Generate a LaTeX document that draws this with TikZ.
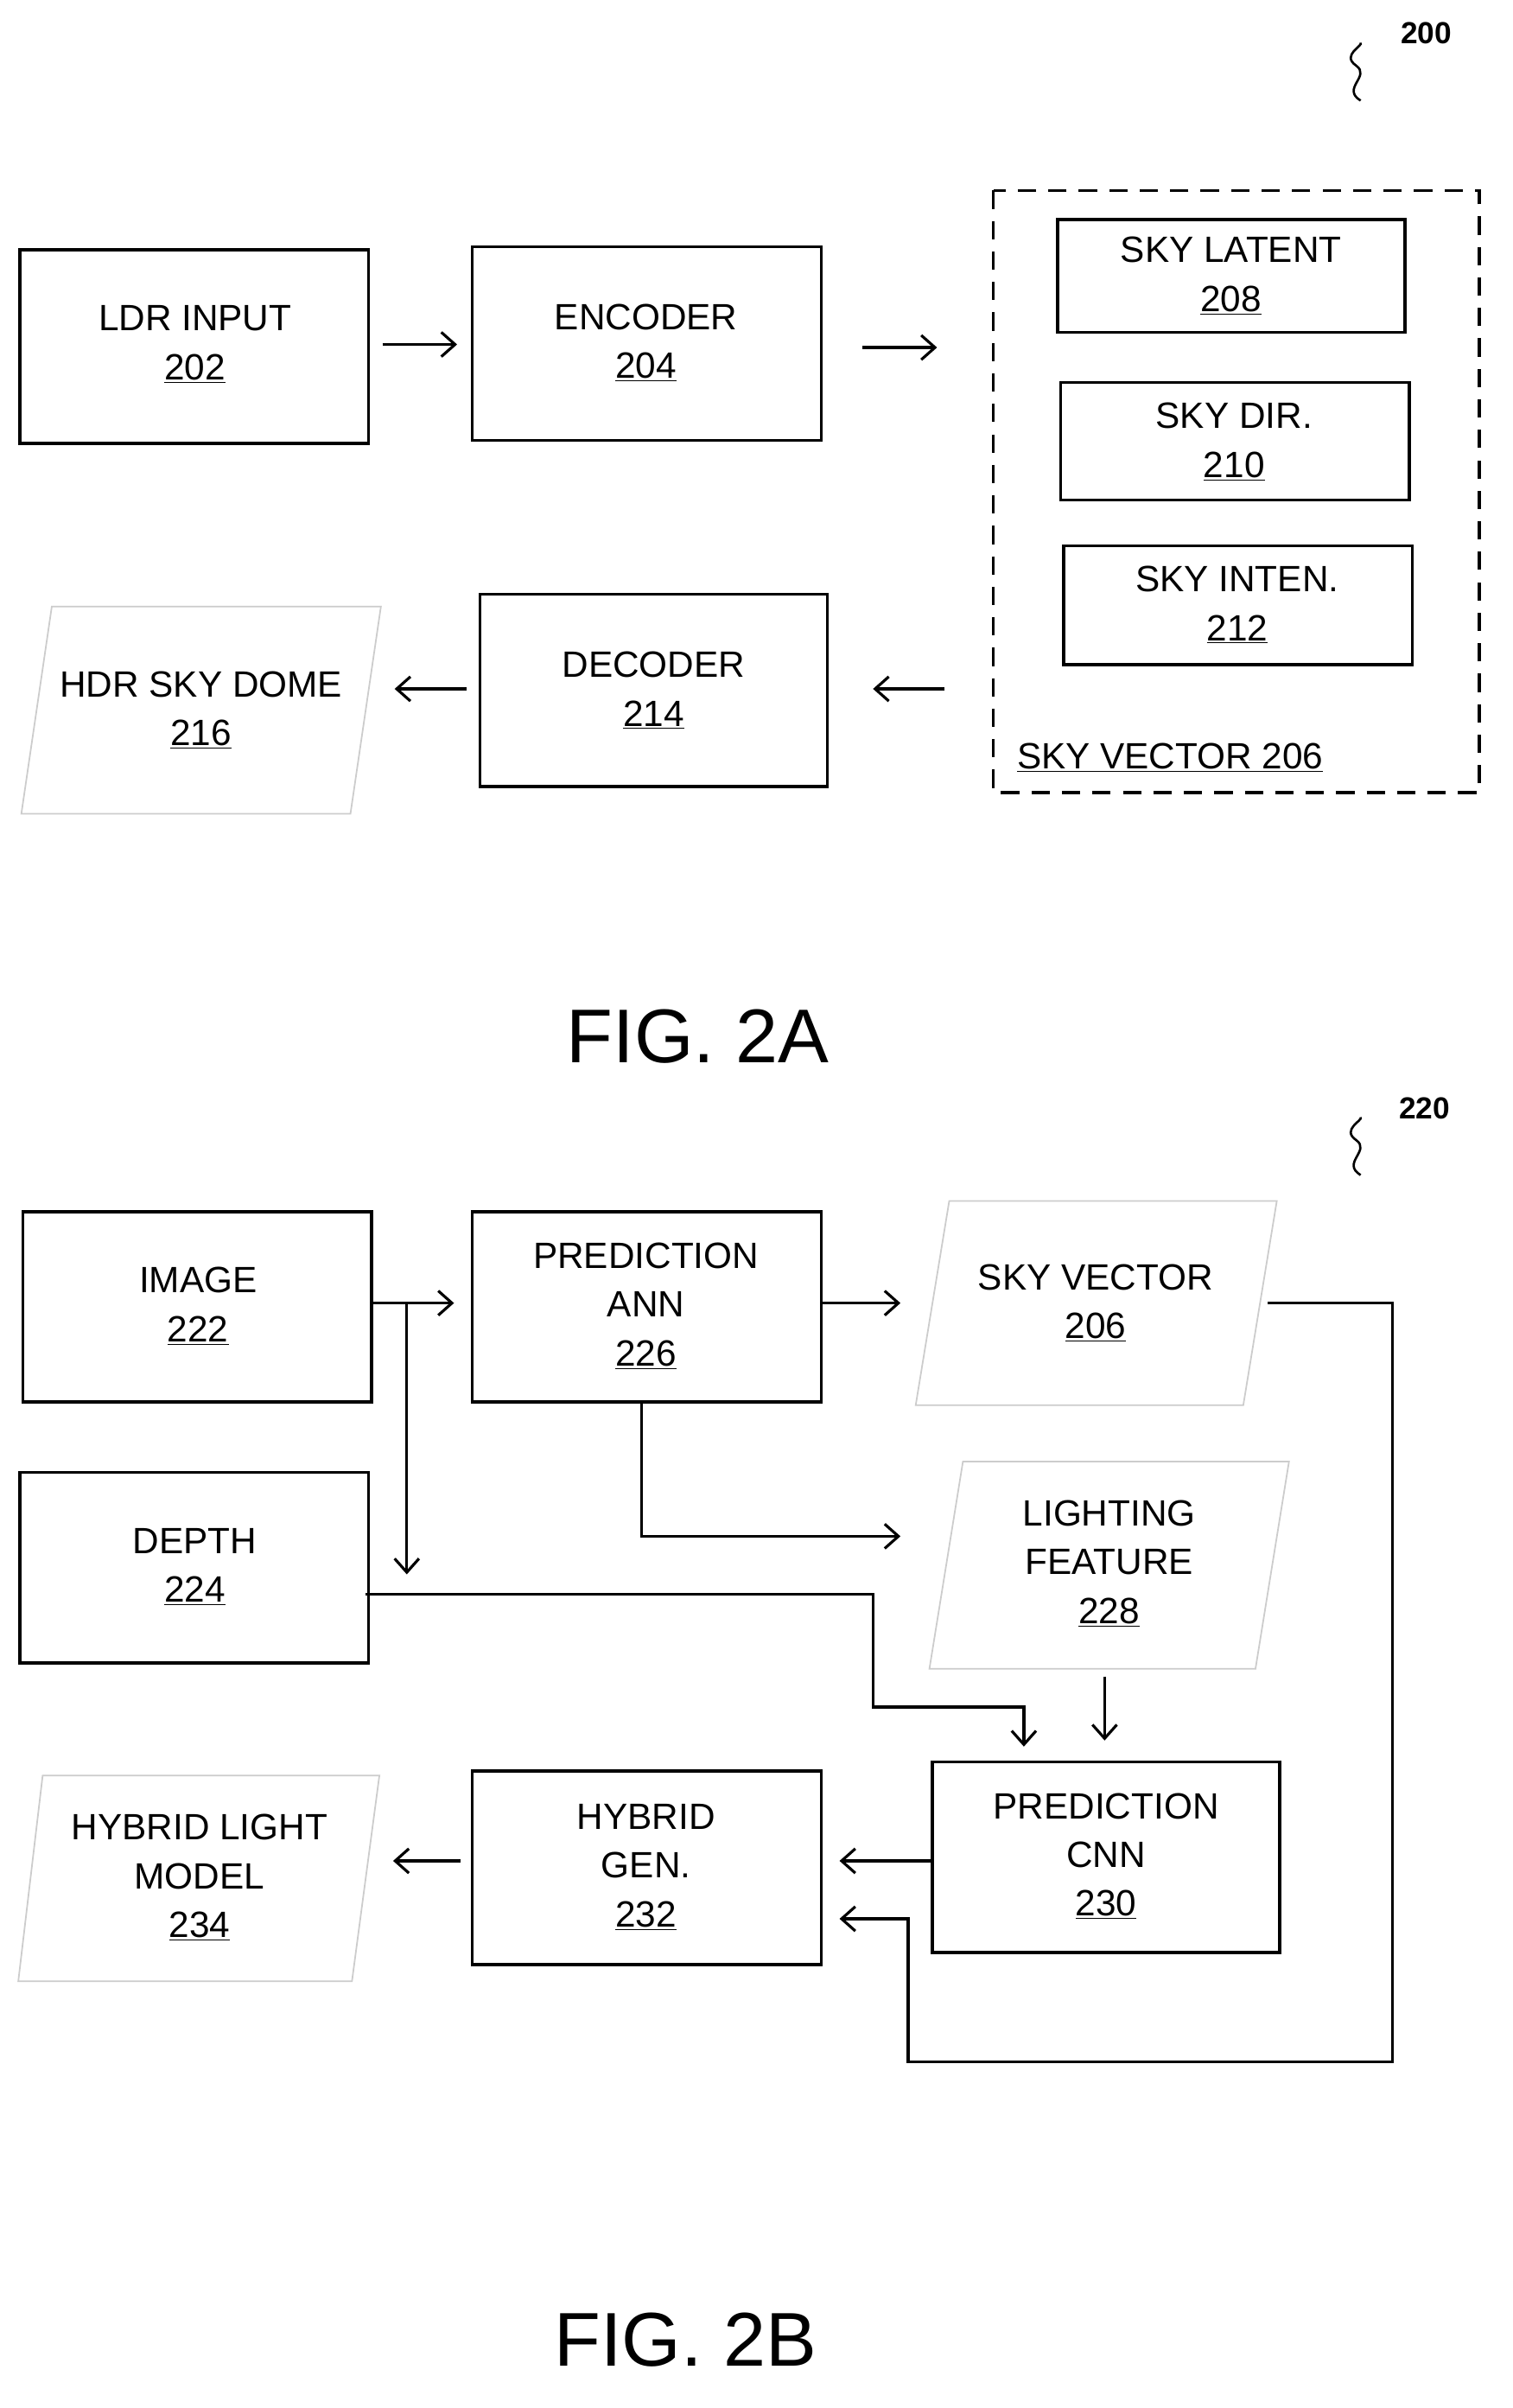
\documentclass[tikz,border=0pt]{standalone}
\usepackage{fontspec}
\setmainfont{Liberation Sans}
\usetikzlibrary{arrows.meta}
\begin{document}
\begin{tikzpicture}[x=1pt,y=-1pt,
  box/.style={draw,line width=2pt},
  para/.style={draw=gray!40,line width=1pt},
  lbl/.style={font=\fontsize{24}{32}\selectfont,align=center},
  arr/.style={line width=1.8pt,-{Straight Barb[length=9pt,width=16pt,line width=1.8pt]}},
  ln/.style={line width=1.8pt}]
\useasboundingbox (0,0) rectangle (993,1580);
\fill[white] (0,0) rectangle (993,1580);
% FIG 2A
\node[font=\bfseries\fontsize{20}{24}\selectfont] (n200) at (936,22) {200};
\draw[line width=1.5pt] (893,66) .. controls (880,58) and (900,50) .. (890,43) .. controls (880,36) and (895,30) .. (893,28);
\draw[box] (13,164) rectangle (242,291); \node[lbl] (ldr) at (128,226) {LDR INPUT\\\underline{202}};
\draw[box] (310,162) rectangle (539,289); \node[lbl] (enc) at (424,225) {ENCODER\\\underline{204}};
\draw[arr] (251,226) -- (300,226);
\draw[arr] (566,228) -- (615,228);
\draw[line width=2pt,dash pattern=on 12pt off 8pt] (652,125) rectangle (971,520);
\draw[box] (694,144) rectangle (922,218); \node[lbl] (lat) at (808,181) {SKY LATENT\\\underline{208}};
\draw[box] (696,251) rectangle (925,328); \node[lbl] (dir) at (810,290) {SKY DIR.\\\underline{210}};
\draw[box] (698,358) rectangle (927,436); \node[lbl] (int) at (812,397) {SKY INTEN.\\\underline{212}};
\node[lbl,anchor=west] (sv) at (664,497) {\underline{SKY VECTOR 206}};
\draw[box] (315,390) rectangle (543,516); \node[lbl] (dec) at (429,453) {DECODER\\\underline{214}};
\draw[arr] (620,452) -- (573,452);
\draw[para] (34,398) -- (250,398) -- (230,534) -- (14,534) -- cycle;
\node[lbl] (hdr) at (132,466) {HDR SKY DOME\\\underline{216}};
\draw[arr] (306,452) -- (259,452);
\node[font=\fontsize{50}{60}\selectfont] (f2a) at (458,680) {FIG. 2A};
% FIG 2B
\node[font=\bfseries\fontsize{20}{24}\selectfont] (n220) at (935,727) {220};
\draw[line width=1.5pt] (893,771) .. controls (880,763) and (900,755) .. (890,748) .. controls (880,741) and (895,735) .. (893,733);
\draw[box] (15,795) rectangle (244,920); \node[lbl] (img) at (130,857) {IMAGE\\\underline{222}};
\draw[box] (310,795) rectangle (539,920); \node[lbl] (ann) at (424,857) {PREDICTION\\ANN\\\underline{226}};
\draw[para] (623,788) -- (838,788) -- (816,922) -- (601,922) -- cycle;
\node[lbl] (skv) at (719,855) {SKY VECTOR\\\underline{206}};
\draw[box] (13,966) rectangle (242,1091); \node[lbl] (dep) at (128,1028) {DEPTH\\\underline{224}};
\draw[para] (632,959) -- (846,959) -- (824,1095) -- (610,1095) -- cycle;
\node[lbl] (lf) at (728,1026) {LIGHTING\\FEATURE\\\underline{228}};
\draw[box] (612,1156) rectangle (840,1281); \node[lbl] (cnn) at (726,1218) {PREDICTION\\CNN\\\underline{230}};
\draw[box] (310,1162) rectangle (539,1289); \node[lbl] (hg) at (424,1225) {HYBRID\\GEN.\\\underline{232}};
\draw[para] (28,1165) -- (249,1165) -- (231,1300) -- (12,1300) -- cycle;
\node[lbl] (hlm) at (131,1232) {HYBRID LIGHT\\MODEL\\\underline{234}};
\draw[arr] (244,855) -- (298,855);
\draw[arr] (267,855) -- (267,1033);
\draw[arr] (539,855) -- (591,855);
\draw[arr] (421,920) -- (421,1008) -- (591,1008);
\draw[arr] (240,1046) -- (573,1046) -- (573,1120) -- (672,1120) -- (672,1146);
\draw[arr] (725,1100) -- (725,1142);
\draw[arr] (612,1221) -- (551,1221);
\draw[arr] (832,855) -- (914,855) -- (914,1353) -- (596,1353) -- (596,1259) -- (551,1259);
\draw[arr] (302,1221) -- (258,1221);
\node[font=\fontsize{50}{60}\selectfont] (f2b) at (450,1535) {FIG. 2B};
\end{tikzpicture}
\end{document}
